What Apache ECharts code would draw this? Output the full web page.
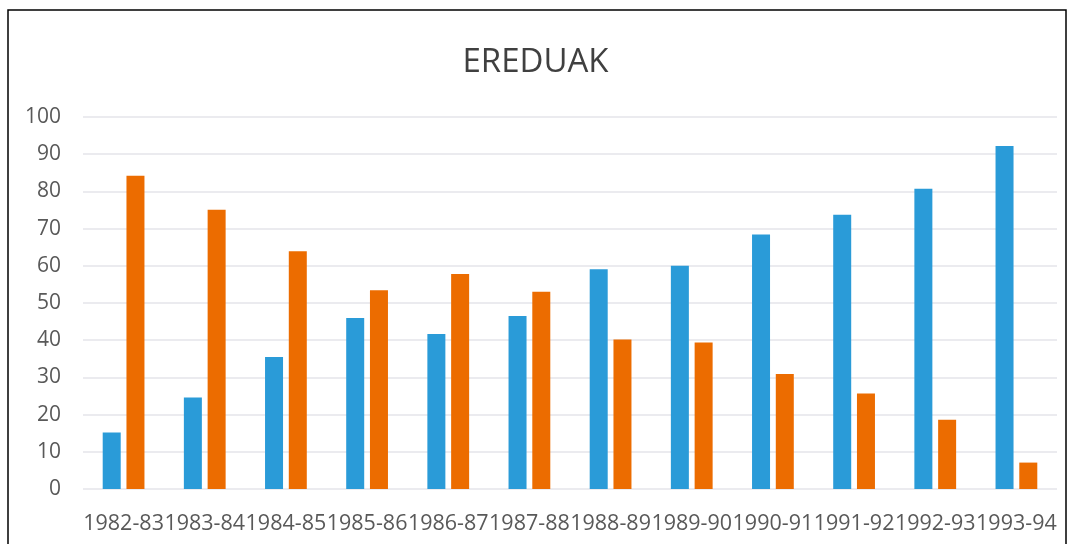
<!DOCTYPE html>
<html>
<head>
<meta charset="utf-8">
<script src="https://cdn.jsdelivr.net/npm/echarts@6/dist/echarts.min.js"></script>
<style>
html,body{margin:0;padding:0;background:#fff;}
#c{width:1071px;height:544px;}
</style>
</head>
<body>
<div id="c"></div>
<script>
var categories = ['1982-83','1983-84','1984-85','1985-86','1986-87','1987-88','1988-89','1989-90','1990-91','1991-92','1992-93','1993-94'];
var seriesBlue = [15.2, 24.6, 35.5, 46.0, 41.7, 46.5, 59.1, 60.0, 68.4, 73.7, 80.7, 92.2];
var seriesOrange = [84.2, 75.1, 63.9, 53.4, 57.8, 53.0, 40.2, 39.4, 30.9, 25.7, 18.6, 7.1];
var yTicks = {min: 0, max: 100, interval: 10};

var chart = echarts.init(document.getElementById('c'));
chart.setOption({
  animation: false,
  backgroundColor: '#fff',
  title: {
    text: 'EREDUAK',
    left: 'center',
    top: 41,
    textStyle: {fontFamily: 'Open Sans', fontSize: 33, fontWeight: 'normal', color: '#404040'}
  },
  graphic: [{
    type: 'rect',
    shape: {x: 8, y: 10, width: 1058, height: 560},
    style: {fill: 'none', stroke: '#000', lineWidth: 1.5},
    silent: true
  }],
  grid: {left: 83, right: 14, top: 117, bottom: 55, containLabel: false},
  xAxis: {
    type: 'category',
    data: categories,
    axisLine: {show: false},
    axisTick: {show: false},
    axisLabel: {interval: 0, margin: 24, fontFamily: 'Open Sans', fontSize: 21.5, color: '#595959'}
  },
  yAxis: {
    type: 'value',
    min: yTicks.min, max: yTicks.max, interval: yTicks.interval,
    axisLine: {show: false},
    axisTick: {show: false},
    axisLabel: {margin: 22, fontFamily: 'Open Sans', fontSize: 21, color: '#595959', padding: [8, 0, 0, 0]},
    splitLine: {lineStyle: {color: '#e4e4ea', width: 1.5}}
  },
  series: [
    {type: 'bar', data: seriesBlue, barWidth: 18, barGap: '32%', itemStyle: {color: '#2a9bd8'}},
    {type: 'bar', data: seriesOrange, barWidth: 18, barGap: '32%', itemStyle: {color: '#ec6c00'}}
  ]
});
</script>
</body>
</html>
